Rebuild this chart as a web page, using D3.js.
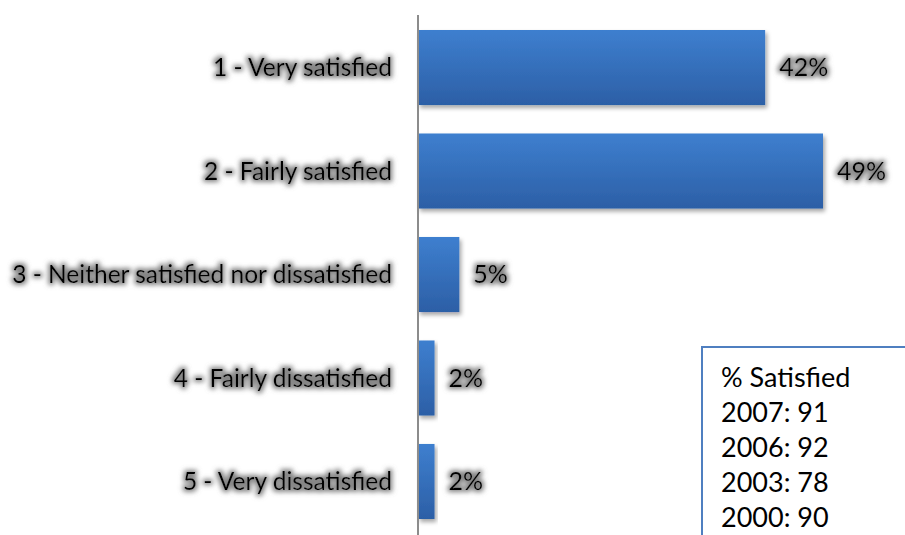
<!DOCTYPE html>
<html>
<head>
<meta charset="utf-8">
<script src="https://cdn.jsdelivr.net/npm/d3@7"></script>
<style>
  html, body { margin: 0; padding: 0; background: #fff; }
  svg { display: block; font-family: Lato, "Open Sans", sans-serif; }
</style>
</head>
<body>
<svg id="chart" width="905" height="535"></svg>
<script>
// Survey responses: share of respondents per satisfaction level
const categories = [
  "1 - Very satisfied",
  "2 - Fairly satisfied",
  "3 - Neither satisfied nor dissatisfied",
  "4 - Fairly dissatisfied",
  "5 - Very dissatisfied"
];
const values = [42, 49, 5, 2, 2];

// Historical overall satisfaction shown in the side panel
const trendTitle = "% Satisfied";
const trendYears = ["2007", "2006", "2003", "2000"];
const trendValues = [91, 92, 78, 90];

const svg = d3.select("#chart");
const defs = svg.append("defs");

// Vertical blue gradient for the bars
const grad = defs.append("linearGradient")
  .attr("id", "barFill").attr("x1", 0).attr("y1", 0).attr("x2", 0).attr("y2", 1);
grad.append("stop").attr("offset", "0%").attr("stop-color", "#3e7fcf");
grad.append("stop").attr("offset", "100%").attr("stop-color", "#2c5fa6");

// Soft drop shadow under the bars
const sh = defs.append("filter").attr("id", "barShadow")
  .attr("x", "-10%").attr("y", "-10%").attr("width", "130%").attr("height", "130%");
sh.append("feDropShadow").attr("dx", 2).attr("dy", 3).attr("stdDeviation", 2)
  .attr("flood-color", "#000").attr("flood-opacity", 0.35);

// Grey glow behind the label text
const glow = defs.append("filter").attr("id", "textGlow")
  .attr("x", "-20%").attr("y", "-40%").attr("width", "140%").attr("height", "180%");
glow.append("feMorphology").attr("in", "SourceAlpha").attr("operator", "dilate")
  .attr("radius", 1.8).attr("result", "thick");
glow.append("feGaussianBlur").attr("in", "thick").attr("stdDeviation", 2.4).attr("result", "blur");
glow.append("feFlood").attr("flood-color", "#6e6e6e").attr("flood-opacity", 0.85).attr("result", "col");
glow.append("feComposite").attr("in", "col").attr("in2", "blur").attr("operator", "in").attr("result", "shadow");
const gm = glow.append("feMerge");
gm.append("feMergeNode").attr("in", "shadow");
gm.append("feMergeNode").attr("in", "SourceGraphic");

const x = d3.scaleLinear().domain([0, 49]).range([418, 823]);
const y = d3.scaleBand().domain(categories).range([30, 519])
  .paddingInner(0.275).paddingOuter(0);

const data = categories.map((c, i) => ({ cat: c, val: values[i] }));

// Bars
svg.append("g").selectAll("rect").data(data).join("rect")
  .attr("x", x(0))
  .attr("y", d => y(d.cat))
  .attr("width", d => x(d.val) - x(0))
  .attr("height", y.bandwidth())
  .attr("fill", "url(#barFill)")
  .attr("filter", "url(#barShadow)");

// Category axis line
svg.append("line")
  .attr("x1", x(0)).attr("x2", x(0))
  .attr("y1", 15).attr("y2", 535)
  .attr("stroke", "#8c8c8c").attr("stroke-width", 2);

// Category labels
svg.append("g").selectAll("text").data(data).join("text")
  .attr("x", 392)
  .attr("y", d => y(d.cat) + y.bandwidth() / 2)
  .attr("dy", "0.35em")
  .attr("text-anchor", "end")
  .attr("font-size", 24.5)
  .attr("fill", "#000")
  .attr("filter", "url(#textGlow)")
  .text(d => d.cat);

// Value labels
svg.append("g").selectAll("text").data(data).join("text")
  .attr("x", d => x(d.val) + 14)
  .attr("y", d => y(d.cat) + y.bandwidth() / 2)
  .attr("dy", "0.35em")
  .attr("font-size", 25)
  .attr("fill", "#000")
  .attr("filter", "url(#textGlow)")
  .text(d => d.val + "%");

// Side panel with historical satisfaction
const panel = svg.append("g");
panel.append("rect")
  .attr("x", 702).attr("y", 347).attr("width", 240).attr("height", 220)
  .attr("fill", "#fff").attr("stroke", "#4f7fc0").attr("stroke-width", 2);
const lines = [trendTitle].concat(trendYears.map((yr, i) => yr + ": " + trendValues[i]));
panel.selectAll("text").data(lines).join("text")
  .attr("x", 721)
  .attr("y", (d, i) => 378 + i * 34.8)
  .attr("dy", "0.35em")
  .attr("font-size", 27)
  .attr("fill", "#000")
  .text(d => d);
</script>
</body>
</html>
